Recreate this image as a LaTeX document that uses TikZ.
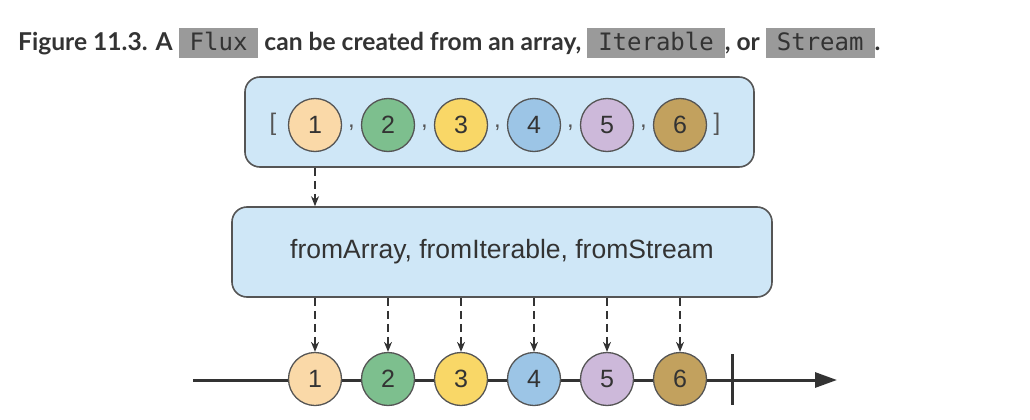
\documentclass[tikz,border=0pt]{standalone}
\usepackage{fontspec}
\setmainfont{Lato}
\setsansfont{Liberation Sans}
\setmonofont{DejaVu Sans Mono}
\usetikzlibrary{arrows.meta, positioning}

\definecolor{titlegray}{HTML}{333333}
\definecolor{codegray}{HTML}{9A9A9A}
\definecolor{boxblue}{HTML}{CFE7F7}
\definecolor{edgegray}{HTML}{555555}
\definecolor{vone}{HTML}{FAD9A8}
\definecolor{vtwo}{HTML}{7DBF8E}
\definecolor{vthree}{HTML}{F9D767}
\definecolor{vfour}{HTML}{9CC5E6}
\definecolor{vfive}{HTML}{CDB9DA}
\definecolor{vsix}{HTML}{C2A15E}

\newcommand{\codeword}[1]{\colorbox{codegray}{\hspace{11pt}\rule[-7pt]{0pt}{30pt}{\mdseries\ttfamily\fontsize{24pt}{24pt}\selectfont #1}\hspace{11pt}}}

\begin{document}
\begin{tikzpicture}[x=1pt, y=-1pt,
    box/.style={draw=edgegray, line width=1.6pt, rounded corners=15pt, fill=boxblue},
    val/.style={circle, draw=edgegray, line width=1.3pt, minimum size=53pt, inner sep=0pt, font=\sffamily\fontsize{25pt}{25pt}\selectfont, text=titlegray},
    sep/.style={font=\sffamily\fontsize{24pt}{24pt}\selectfont, text=edgegray},
    conn/.style={-{Stealth[length=10pt, width=8pt]}, line width=1.2pt, draw=titlegray, dash pattern=on 8pt off 5pt},
    line/.style={line width=3pt, draw=titlegray}
]
\useasboundingbox (0,0) rectangle (1030,420);
\setlength{\fboxsep}{0pt}

\node[anchor=base west, inner sep=0pt, text=titlegray, font=\bfseries\fontsize{24.6pt}{24.6pt}\selectfont] (title) at (18,51)
  {Figure 11.3. A \codeword{Flux} can be created from an array, \codeword{Iterable}, or \codeword{Stream}.};

% the array
\node[box, minimum width=509pt, minimum height=90pt] (array) at (499.5,122) {};
\node[val, fill=vone]   (a1) at (315,125) {1};
\node[val, fill=vtwo]   (a2) at (388,125) {2};
\node[val, fill=vthree] (a3) at (461,125) {3};
\node[val, fill=vfour]  (a4) at (534,125) {4};
\node[val, fill=vfive]  (a5) at (607,125) {5};
\node[val, fill=vsix]   (a6) at (680,125) {6};
\node[sep] (lb) at (273,124) {[};
\node[sep] (rb) at (717,124) {]};
\node[sep] (k1) at (351.5,128) {,};
\node[sep] (k2) at (424.5,128) {,};
\node[sep] (k3) at (497.5,128) {,};
\node[sep] (k4) at (570.5,128) {,};
\node[sep] (k5) at (643.5,128) {,};

% the operators
\node[box, minimum width=540pt, minimum height=90pt, font=\sffamily\fontsize{26.5pt}{26.5pt}\selectfont, text=titlegray] (ops) at (502,252)
  {fromArray, fromIterable, fromStream};

% the timeline
\coordinate (tstart) at (193,380);
\coordinate (tend) at (837,380);
\coordinate (ttop) at (732,354);
\coordinate (tbot) at (732,405);
\draw[line, -{Triangle[length=22pt, width=15pt]}] (tstart) -- (tend);
\draw[line] (ttop) -- (tbot);

\node[val, fill=vone]   (e1) at (315,379) {1};
\node[val, fill=vtwo]   (e2) at (388,379) {2};
\node[val, fill=vthree] (e3) at (461,379) {3};
\node[val, fill=vfour]  (e4) at (534,379) {4};
\node[val, fill=vfive]  (e5) at (607,379) {5};
\node[val, fill=vsix]   (e6) at (680,379) {6};

\draw[conn] (a1 |- array.south) -- (a1 |- ops.north);
\draw[conn] (e1 |- ops.south) -- (e1);
\draw[conn] (e2 |- ops.south) -- (e2);
\draw[conn] (e3 |- ops.south) -- (e3);
\draw[conn] (e4 |- ops.south) -- (e4);
\draw[conn] (e5 |- ops.south) -- (e5);
\draw[conn] (e6 |- ops.south) -- (e6);
\end{tikzpicture}
\end{document}
